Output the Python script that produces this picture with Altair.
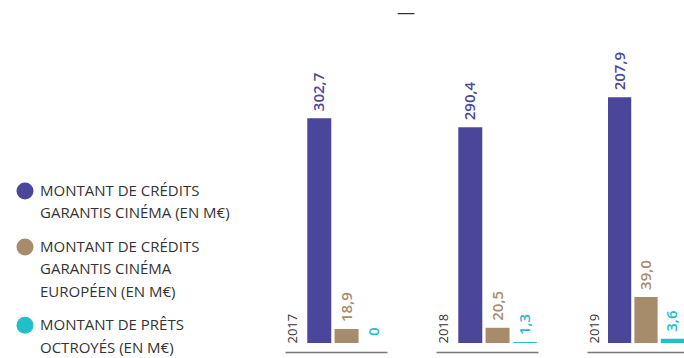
import altair as alt
import pandas as pd

years = ["2017", "2018", "2019"]
series = [
    "MONTANT DE CRÉDITS\nGARANTIS CINÉMA (EN M€)",
    "MONTANT DE CRÉDITS\nGARANTIS CINÉMA\nEUROPÉEN (EN M€)",
    "MONTANT DE PRÊTS\nOCTROYÉS (EN M€)",
]
credits_cinema = [302.7, 290.4, 207.9]
credits_europeen = [18.9, 20.5, 39.0]
prets_octroyes = [0.0, 1.3, 3.6]
colors = ["#4a4699", "#a68c6b", "#22bfc9"]
y_max = [350, 350, 220]
panel_w = [102, 102, 97]
pad_outer = [0.43, 0.43, 0.398]
band_align = [0.95, 0.95, 1.0]

FONT = "Open Sans"

rows = []
for i, y in enumerate(years):
    for s, vals in zip(series, [credits_cinema, credits_europeen, prets_octroyes]):
        rows.append({"year": y, "series": s, "value": vals[i]})
df = pd.DataFrame(rows)

# legend entries: slot = line index where each entry starts (half-line gap between entries)
leg_rows = []
slot = 0.0
for s in series:
    leg_rows.append({"series": s, "slot": slot})
    slot += s.count("\n") + 1 + 0.5
leg_df = pd.DataFrame(leg_rows)

color_scale = alt.Scale(domain=series, range=colors)

leg_y = alt.Y("slot:Q", scale=alt.Scale(domain=[-4.82, 6.79], reverse=True, nice=False), axis=None)
leg_base = alt.Chart(leg_df)
leg_dots = leg_base.mark_circle(size=289, opacity=1).encode(
    x=alt.value(25), y=leg_y,
    color=alt.Color("series:N", scale=color_scale, legend=None),
)
leg_text = leg_base.transform_calculate(
    lines="split(datum.series, '\\n')"
).mark_text(
    align="left", baseline="alphabetic", dy=5, lineHeight=22.4,
    font=FONT, fontSize=15, color="#333333",
).encode(x=alt.value(40), y=leg_y, text="lines:N")
legend_panel = alt.layer(leg_dots, leg_text).properties(width=285, height=260)

panels = []
for i, yr in enumerate(years):
    base = alt.Chart(df).transform_filter(alt.datum.year == yr)
    x = alt.X(
        "series:N",
        sort=series,
        scale=alt.Scale(paddingInner=0.12, paddingOuter=pad_outer[i], align=band_align[i]),
        axis=alt.Axis(
            title=None, labels=False, ticks=False, domain=True,
            domainColor="#777777", domainWidth=1.3, offset=9, grid=False,
        ),
    )
    y = alt.Y(
        "value:Q",
        scale=alt.Scale(domain=[0, y_max[i]], nice=False),
        axis=alt.Axis(
            title=yr, labels=False, ticks=False, domain=False, grid=False,
            titleAngle=270, titleAlign="left", titleBaseline="middle",
            titleX=7, titleY=260, titleFont=FONT, titleFontSize=13,
            titleFontWeight="normal", titleColor="#333333",
        ),
    )
    color = alt.Color("series:N", scale=color_scale, legend=None)
    bars = base.mark_bar().encode(x=x, y=y, color=color)
    labels = base.transform_calculate(
        lab="datum.value == 0 ? '0' : replace(format(datum.value, '.1f'), '.', ',')"
    ).mark_text(
        angle=270, align="left", baseline="middle", dx=7,
        font=FONT, fontSize=15, fontWeight=600,
    ).encode(x=x, y=y, text="lab:N", color=color)
    panels.append(
        alt.layer(bars, labels).properties(width=panel_w[i], height=260)
    )

inner = alt.hconcat(*panels, spacing=49, bounds="flush")
chart = alt.hconcat(legend_panel, inner, spacing=0, bounds="flush").properties(
    title=alt.TitleParams(
        "—", anchor="start", frame="group", dx=397, offset=20,
        baseline="middle", fontSize=18, font=FONT, color="#333333",
        fontWeight="normal",
    ),
    padding={"left": 0, "top": 4, "right": 0, "bottom": 0},
).configure_view(stroke=None)

chart.save("out.html", embed_options={"renderer": "svg", "actions": False})
